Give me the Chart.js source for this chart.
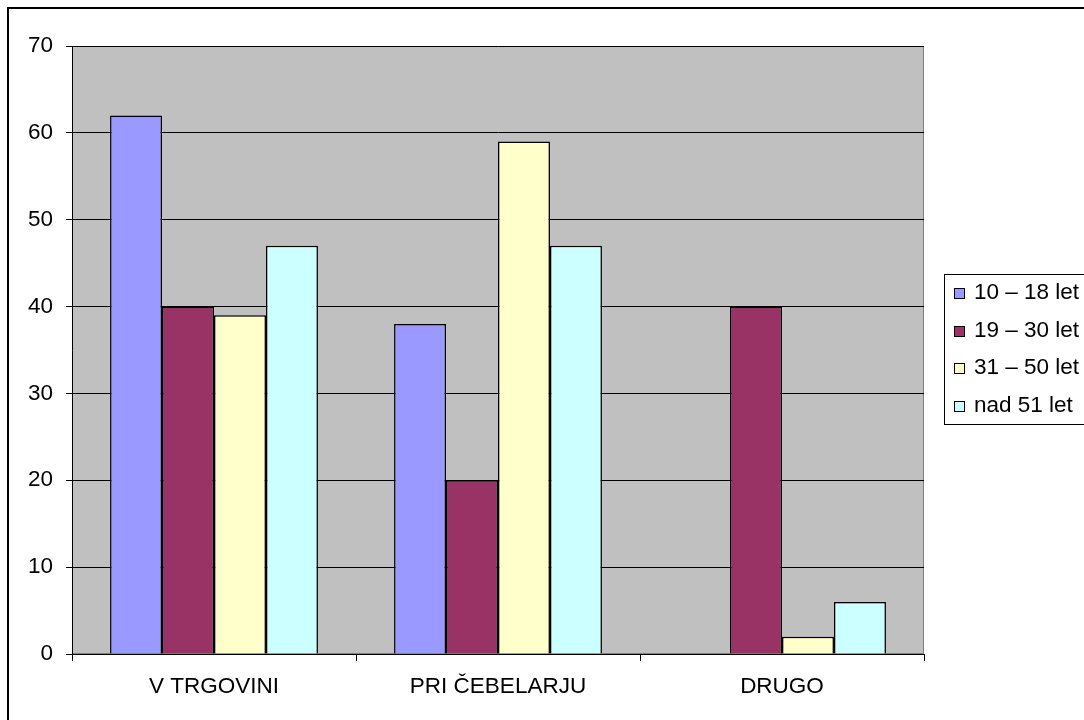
<!DOCTYPE html>
<html lang="sl">
<head>
<meta charset="UTF-8">
<title>Nakup medu po starosti</title>
<script src="https://cdn.jsdelivr.net/npm/chart.js"></script>
<style>
  body { margin: 0; background: #fff; overflow: hidden; }
  .okvir {
    position: absolute; left: 7px; top: 7px;
    width: 1200px; height: 800px;
    border: 2px solid #000;
  }
  .graf { position: absolute; left: 0; top: 0; width: 1084px; height: 720px; }
</style>
</head>
<body>
<div class="okvir"></div>
<div class="graf">
  <canvas id="graf" width="1084" height="720"></canvas>
</div>
<script>
  // podatki
  const kategorije = ['V TRGOVINI', 'PRI ČEBELARJU', 'DRUGO'];
  const skupine = ['10 – 18 let', '19 – 30 let', '31 – 50 let', 'nad 51 let'];
  const starost10_18 = [62, 38, 0];
  const starost19_30 = [40, 20, 40];
  const starost31_50 = [39, 59, 2];
  const starostNad51 = [47, 47, 6];
  const barve = ['#9999FF', '#993366', '#FFFFCC', '#CCFFFF'];

  const vrednosti = [starost10_18, starost19_30, starost31_50, starostNad51];

  Chart.defaults.font.family = "'Liberation Sans', Arial, sans-serif";
  Chart.defaults.font.size = 22.5;
  Chart.defaults.color = '#000';

  // sivo ozadje risalne ploskve
  const ozadje = {
    id: 'ozadje',
    beforeDraw(chart) {
      const { ctx, chartArea: a } = chart;
      ctx.save();
      ctx.fillStyle = '#C0C0C0';
      ctx.fillRect(a.left, a.top, a.right - a.left, a.bottom - a.top);
      ctx.strokeStyle = '#808080';
      ctx.lineWidth = 1;
      ctx.strokeRect(a.left + 0.5, a.top + 0.5, a.right - a.left - 1, a.bottom - a.top - 1);
      ctx.restore();
    }
  };

  // legenda v okvirju desno
  const legenda = {
    id: 'legenda',
    afterDraw(chart) {
      const ctx = chart.ctx;
      ctx.save();
      ctx.strokeStyle = '#000';
      ctx.lineWidth = 1;
      ctx.strokeRect(944.5, 274.5, 200, 150);
      ctx.font = "22.5px 'Liberation Sans', Arial, sans-serif";
      ctx.textBaseline = 'middle';
      chart.data.datasets.forEach((ds, i) => {
        const y = Math.round(293 + i * 37.5);
        ctx.fillStyle = ds.backgroundColor;
        ctx.fillRect(954, y - 5, 11, 11);
        ctx.strokeRect(954.5, y - 4.5, 10, 10);
        ctx.fillStyle = '#000';
        ctx.fillText(ds.label, 974, y);
      });
      ctx.restore();
    }
  };

  const data = {
    labels: kategorije,
    datasets: skupine.map((ime, i) => ({
      label: ime,
      data: vrednosti[i],
      backgroundColor: barve[i],
      borderColor: '#000',
      borderWidth: 1.5,
      borderSkipped: 'bottom'
    }))
  };

  const config = {
    type: 'bar',
    data: data,
    options: {
      responsive: false,
      animation: false,
      layout: { padding: { left: 0, top: 46, right: 160, bottom: 0 } },
      datasets: {
        bar: { categoryPercentage: 0.732, barPercentage: 1 }
      },
      plugins: {
        legend: { display: false },
        tooltip: { enabled: false }
      },
      scales: {
        x: {
          afterFit(s) { s.height = 66; },
          grid: {
            offset: true,
            drawOnChartArea: false,
            drawTicks: true,
            tickLength: 7,
            color: '#000'
          },
          border: { color: '#000', width: 1 },
          ticks: { padding: 12, maxRotation: 0 }
        },
        y: {
          min: 0,
          max: 70,
          afterFit(s) { s.width = 72; },
          grid: { color: '#000', tickLength: 6, lineWidth: 1 },
          border: { color: '#000', width: 1 },
          ticks: { stepSize: 10, padding: 13 }
        }
      }
    },
    plugins: [ozadje, legenda]
  };

  const graf = new Chart(document.getElementById('graf'), config);
</script>
</body>
</html>
